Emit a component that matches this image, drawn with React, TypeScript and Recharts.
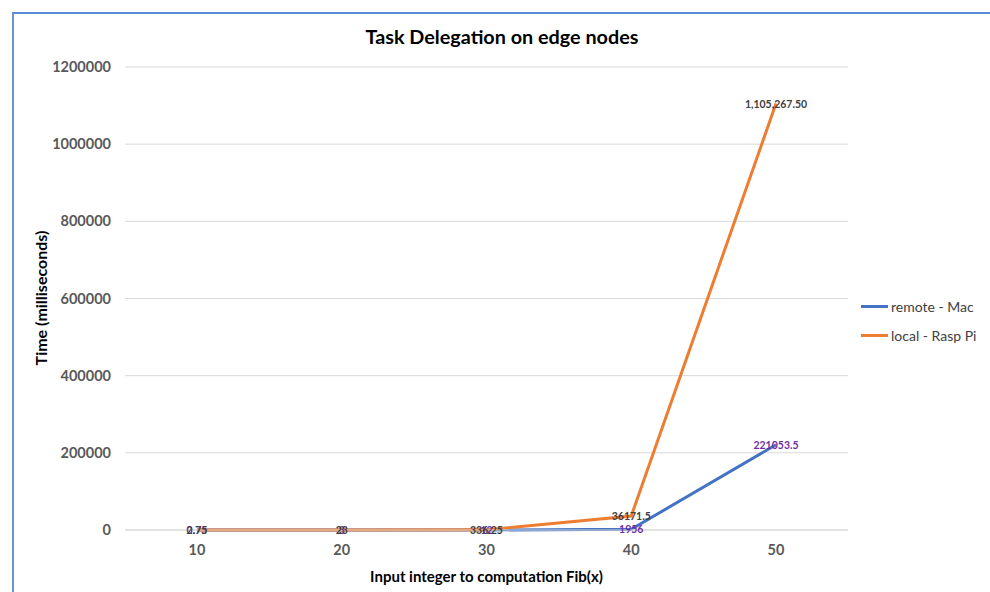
import React from "react";
import { LineChart, Line, XAxis, YAxis, CartesianGrid, LabelList } from "recharts";

const categories = [10, 20, 30, 40, 50];
const remoteMac = [0.75, 3, 12, 1956, 221053.5];
const localRaspPi = [2.75, 23, 336.25, 36171.5, 1105267.5];
const remoteLabels = ["0.75", "3", "12", "1956", "221053.5"];
const localLabels = ["2.75", "23", "336.25", "36171.5", "1,105,267.50"];
const yTicks = [0, 200000, 400000, 600000, 800000, 1000000, 1200000];
const seriesNames = ["remote - Mac", "local - Rasp Pi"];

const data = categories.map((c, i) => ({
  x: c,
  remote: remoteMac[i],
  local: localRaspPi[i],
}));

const FONT = "Lato, 'Open Sans', sans-serif";
const BLUE = "#4472C4";
const ORANGE = "#ED7D31";

const makeLabel = (labels: string[], color: string) => (props: any) => {
  const { x, y, index } = props;
  return (
    <text
      x={x}
      y={y}
      textAnchor="middle"
      dominantBaseline="central"
      fill={color}
      fontFamily={FONT}
      fontWeight={700}
      fontSize={10.5}
    >
      {labels[index]}
    </text>
  );
};

export default function App() {
  return (
    <div style={{ position: "absolute", left: 0, top: 0, width: 990, height: 592, background: "#fff", overflow: "hidden" }}>
      <div
        style={{
          position: "absolute",
          left: 12,
          top: 12,
          width: 990,
          height: 600,
          borderLeft: "2px solid #6b93d6",
          borderTop: "2px solid #5b8bd8",
          boxSizing: "border-box",
        }}
      />
      <div
        style={{
          position: "absolute",
          top: 24,
          left: 0,
          width: 1004,
          textAlign: "center",
          fontFamily: FONT,
          fontWeight: 700,
          fontSize: 19.8,
          color: "#000",
        }}
      >
        Task Delegation on edge nodes
      </div>
      <div
        style={{
          position: "absolute",
          top: 567,
          left: 125,
          width: 723,
          textAlign: "center",
          fontFamily: FONT,
          fontWeight: 700,
          fontSize: 15,
          color: "#000",
        }}
      >
        Input integer to computation Fib(x)
      </div>
      <div
        style={{
          position: "absolute",
          left: 40,
          top: 298,
          transform: "translate(-50%, -50%) rotate(-90deg)",
          whiteSpace: "nowrap",
          fontFamily: FONT,
          fontWeight: 700,
          fontSize: 16,
          color: "#000",
        }}
      >
        Time (milliseconds)
      </div>
      <div style={{ position: "absolute", left: 861, top: 292, fontFamily: FONT, fontSize: 14, color: "#404040" }}>
        {seriesNames.map((name, i) => (
          <div key={name} style={{ display: "flex", alignItems: "center", height: 29 }}>
            <span style={{ display: "inline-block", width: 27, height: 3, background: i === 0 ? BLUE : ORANGE, marginRight: 3 }} />
            <span>{name}</span>
          </div>
        ))}
      </div>
      <div style={{ position: "absolute", left: 0, top: 0 }}>
        <LineChart width={990} height={592} data={data} margin={{ top: 67, right: 142, bottom: 0, left: 0 }}>
          <CartesianGrid vertical={false} stroke="#d9d9d9" />
          <XAxis
            dataKey="x"
            padding={{ left: 72, right: 72 }}
            tickLine={false}
            axisLine={{ stroke: "#d9d9d9" }}
            tickSize={6}
            tickMargin={9}
            tick={{ fill: "#595959", fontFamily: FONT, fontWeight: 700, fontSize: 14.5 }}
            height={62}
          />
          <YAxis
            width={125}
            domain={[0, 1200000]}
            ticks={yTicks}
            tickLine={false}
            axisLine={false}
            tickSize={6}
            tickMargin={8}
            tick={{ fill: "#595959", fontFamily: FONT, fontWeight: 700, fontSize: 14.5 }}
          />
          <Line
            type="linear"
            dataKey="remote"
            name={seriesNames[0]}
            stroke={BLUE}
            strokeWidth={3}
            dot={false}
            activeDot={false}
            isAnimationActive={false}
          >
            <LabelList dataKey="remote" content={makeLabel(remoteLabels, "#7030A0")} />
          </Line>
          <Line
            type="linear"
            dataKey="local"
            name={seriesNames[1]}
            stroke={ORANGE}
            strokeWidth={3}
            dot={false}
            activeDot={false}
            isAnimationActive={false}
          >
            <LabelList dataKey="local" content={makeLabel(localLabels, "#404040")} />
          </Line>
        </LineChart>
      </div>
    </div>
  );
}
